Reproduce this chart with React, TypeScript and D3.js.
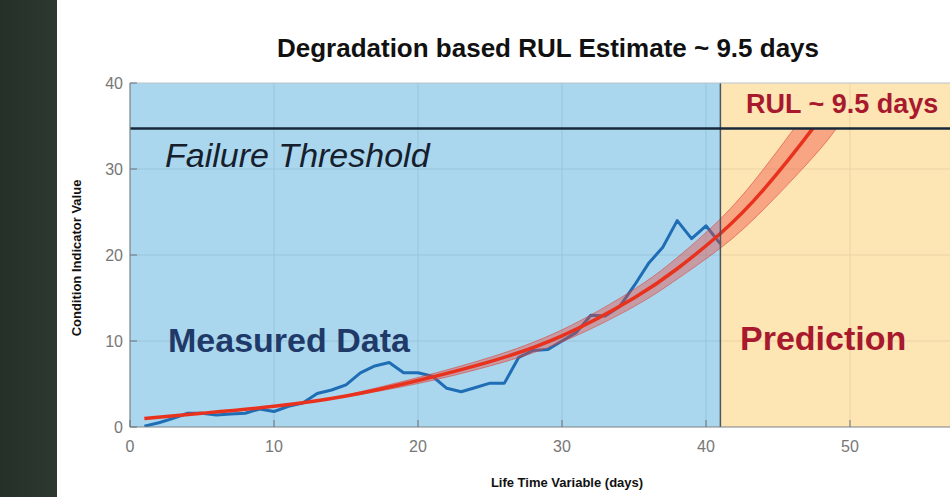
import React from 'react';
import * as d3 from 'd3';

// measured condition indicator, days 1..41
const measuredDays = d3.range(1, 42);
const measuredValues = [
  0.1, 0.5, 1.0, 1.6, 1.6, 1.4, 1.5, 1.6, 2.1, 1.8,
  2.4, 2.8, 3.9, 4.3, 4.9, 6.3, 7.1, 7.5, 6.3, 6.3,
  5.9, 4.5, 4.1, 4.6, 5.1, 5.1, 8.1, 8.9, 9.0, 10.0,
  11.0, 13.0, 12.9, 14.0, 16.4, 19.0, 20.9, 24.0, 21.9, 23.4, 21.3,
];

// fitted degradation model
const fitDays = [1, 5, 10, 15, 20, 25, 30, 35, 38, 41, 44, 47.5, 49];
const fitValues = [1.0, 1.6, 2.4, 3.6, 5.4, 7.6, 10.6, 15.0, 18.4, 22.5, 27.6, 34.9, 38.5];

// confidence band around the fit
const bandDays = [15, 20, 25, 30, 35, 38, 41, 44, 47.5, 49];
const bandLow = [3.5, 5.05, 7.1, 9.9, 14.0, 17.2, 20.8, 25.3, 31.5, 34.6];
const bandHigh = [3.7, 5.75, 8.1, 11.3, 16.0, 19.7, 24.2, 30.0, 37.9, 41.6];

const threshold = 34.7;
const lastMeasuredDay = 41;
const xTicks = [0, 10, 20, 30, 40, 50];
const yTicks = [0, 10, 20, 30, 40];

const width = 950;
const height = 497;
const margin = { top: 83, right: 0, bottom: 70, left: 130 };

export default function App() {
  const x = d3.scaleLinear().domain([0, 60]).range([margin.left, margin.left + 864]);
  const y = d3.scaleLinear().domain([0, 40]).range([height - margin.bottom, margin.top]);

  const plotTop = y(40);
  const plotBottom = y(0);
  const plotLeft = x(0);

  const measuredLine = d3.line<number>()
    .x((_, i) => x(measuredDays[i]))
    .y(d => y(d));

  const fitLine = d3.line<number>()
    .x((_, i) => x(fitDays[i]))
    .y(d => y(d))
    .curve(d3.curveNatural);

  const bandArea = d3.area<number>()
    .x((_, i) => x(bandDays[i]))
    .y0((_, i) => y(bandLow[i]))
    .y1(d => y(d))
    .curve(d3.curveNatural);

  const font = 'Liberation Sans, Arial, sans-serif';

  return (
    <svg width={width} height={height} style={{ position: 'absolute', left: 0, top: 0 }}>
      <defs>
        <linearGradient id="strip" x1="0" x2="1" y1="0" y2="0">
          <stop offset="0" stopColor="#243028" />
          <stop offset="1" stopColor="#2c3830" />
        </linearGradient>
        <clipPath id="plot">
          <rect x={plotLeft} y={plotTop} width={width - plotLeft} height={plotBottom - plotTop} />
        </clipPath>
        <clipPath id="below">
          <rect x={plotLeft} y={y(threshold)} width={width - plotLeft} height={plotBottom - y(threshold)} />
        </clipPath>
      </defs>
      <rect x={0} y={0} width={width} height={height} fill="#ffffff" />
      <rect x={0} y={0} width={57} height={height} fill="url(#strip)" />

      <text x={548} y={57} textAnchor="middle" fontFamily={font} fontWeight="bold" fontSize={26} fill="#111">
        Degradation based RUL Estimate ~ 9.5 days
      </text>

      <g clipPath="url(#plot)">
        <rect x={plotLeft} y={plotTop} width={x(lastMeasuredDay) - plotLeft} height={plotBottom - plotTop} fill="#aad6ee" />
        <rect x={x(lastMeasuredDay)} y={plotTop} width={width - x(lastMeasuredDay)} height={plotBottom - plotTop} fill="#fde5b4" />
        {xTicks.slice(1).map(t => (
          <line key={'gx' + t} x1={x(t)} x2={x(t)} y1={plotTop} y2={plotBottom}
            stroke={t < lastMeasuredDay ? '#98c4dc' : '#ecd3a6'} strokeWidth={1} />
        ))}
        {yTicks.slice(1, -1).map(t => (
          <g key={'gy' + t}>
            <line x1={plotLeft} x2={x(lastMeasuredDay)} y1={y(t)} y2={y(t)} stroke="#98c4dc" strokeWidth={1} />
            <line x1={x(lastMeasuredDay)} x2={width} y1={y(t)} y2={y(t)} stroke="#ecd3a6" strokeWidth={1} />
          </g>
        ))}

        <path d={measuredLine(measuredValues) ?? ''} fill="none" stroke="#1f6db5" strokeWidth={3} strokeLinejoin="round" />

        <g clipPath="url(#below)">
          <path d={bandArea(bandHigh) ?? ''} fill="rgba(238,70,55,0.4)" stroke="rgba(220,60,50,0.55)" strokeWidth={1} />
          <path d={fitLine(fitValues) ?? ''} fill="none" stroke="#e8321e" strokeWidth={3.5} />
        </g>

        <line x1={x(lastMeasuredDay)} x2={x(lastMeasuredDay)} y1={plotTop} y2={plotBottom} stroke="#4a5560" strokeWidth={1.5} />
        <line x1={plotLeft} x2={width} y1={y(threshold)} y2={y(threshold)} stroke="#17283a" strokeWidth={2.5} />
      </g>

      {/* axes */}
      <line x1={plotLeft} x2={width} y1={plotTop} y2={plotTop} stroke="#b8c4cc" strokeWidth={1} />
      <line x1={plotLeft} x2={plotLeft} y1={plotTop} y2={plotBottom} stroke="#7a8288" strokeWidth={1.2} />
      <line x1={plotLeft} x2={width} y1={plotBottom} y2={plotBottom} stroke="#7a8288" strokeWidth={1.2} />
      {xTicks.map(t => (
        <g key={'xt' + t}>
          <line x1={x(t)} x2={x(t)} y1={plotBottom} y2={plotBottom - 7} stroke="#6a7278" strokeWidth={1} />
          <text x={x(t)} y={452} textAnchor="middle" fontFamily={font} fontSize={16} fill="#777">{t}</text>
        </g>
      ))}
      {yTicks.map(t => (
        <g key={'yt' + t}>
          <line x1={plotLeft} x2={plotLeft + 7} y1={y(t)} y2={y(t)} stroke="#6a7278" strokeWidth={1} />
          <text x={123} y={y(t)} dy="0.35em" textAnchor="end" fontFamily={font} fontSize={16} fill="#777">{t}</text>
        </g>
      ))}

      <text x={567} y={487} textAnchor="middle" fontFamily={font} fontWeight="bold" fontSize={13} fill="#111">
        Life Time Variable (days)
      </text>
      <text transform={`translate(81,${(plotTop + plotBottom) / 2 + 3}) rotate(-90)`} textAnchor="middle"
        fontFamily={font} fontWeight="bold" fontSize={13} fill="#111">
        Condition Indicator Value
      </text>

      {/* annotations */}
      <text x={165} y={167} fontFamily={font} fontStyle="italic" fontSize={34} fill="#16202c">Failure Threshold</text>
      <text x={168} y={352} fontFamily={font} fontWeight="bold" fontSize={34} fill="#1f3a68">Measured Data</text>
      <text x={740} y={350} fontFamily={font} fontWeight="bold" fontSize={34} fill="#a8192e">Prediction</text>
      <text x={746} y={113} fontFamily={font} fontWeight="bold" fontSize={27} fill="#a8192e">RUL ~ 9.5 days</text>
    </svg>
  );
}
